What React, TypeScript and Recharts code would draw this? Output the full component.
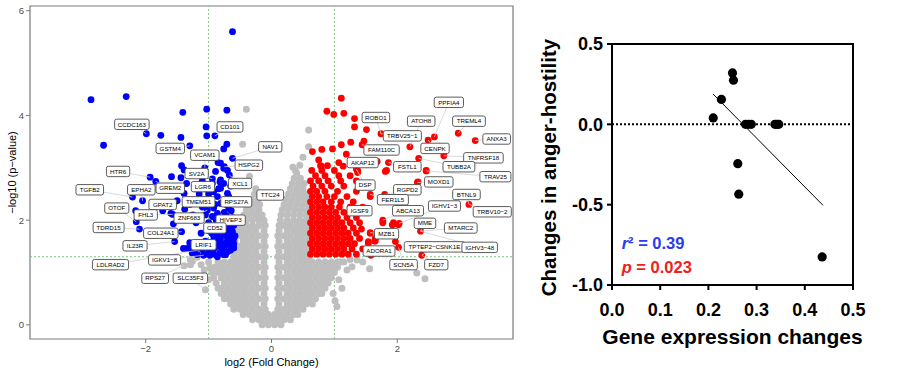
import { ScatterChart, Scatter, XAxis, YAxis, ReferenceLine, ReferenceArea, ReferenceDot } from "recharts";

// volcano plot: gray cloud rows as [y, ...x]
const grayRows: number[][] = [
  [0.0, -0.15, -0.05, 0.05, 0.15],
  [0.1, -0.3, -0.2, -0.1, 0, 0.1, 0.2, 0.3],
  [0.2, -0.45, -0.35, -0.25, -0.15, -0.05, 0.05, 0.15, 0.25, 0.35, 0.42],
  [0.3, -0.6, -0.5, -0.4, -0.3, -0.2, -0.1, 0.1, 0.2, 0.3, 0.4, 0.5],
  [0.4, -0.65, -0.55, -0.45, -0.35, -0.25, -0.12, 0.12, 0.25, 0.35, 0.45, 0.55, 0.65],
  [0.5, -0.75, -0.7, -0.6, -0.5, -0.4, -0.3, -0.2, -0.1, 0.1, 0.2, 0.3, 0.4, 0.5, 0.6, 0.7],
  [0.6, -0.8, -0.75, -0.65, -0.55, -0.45, -0.35, -0.25, -0.12, 0.12, 0.25, 0.35, 0.45, 0.55, 0.65, 0.75, 0.8],
  [0.7, -0.85, -0.8, -0.7, -0.6, -0.5, -0.4, -0.3, -0.2, -0.1, 0.1, 0.2, 0.3, 0.4, 0.5, 0.6, 0.7, 0.8, 0.85],
  [0.8, -0.88, -0.75, -0.65, -0.55, -0.45, -0.35, -0.25, -0.12, 0.12, 0.25, 0.35, 0.45, 0.55, 0.65, 0.75, 0.85, 0.9],
  [0.9, -0.92, -0.8, -0.7, -0.6, -0.5, -0.4, -0.3, -0.2, -0.1, 0.1, 0.2, 0.3, 0.4, 0.5, 0.6, 0.7, 0.8, 0.9, 0.95],
  [1.0, -0.95, -0.85, -0.75, -0.65, -0.55, -0.45, -0.35, -0.25, -0.12, 0.12, 0.25, 0.35, 0.45, 0.55, 0.65, 0.75, 0.85, 0.95, 1.0],
  [1.1, -0.98, -0.9, -0.8, -0.7, -0.6, -0.5, -0.4, -0.3, -0.2, -0.1, 0.1, 0.2, 0.3, 0.4, 0.5, 0.6, 0.7, 0.8, 0.9, 1.0, 1.05],
  [1.2, -1.0, -0.85, -0.75, -0.65, -0.55, -0.45, -0.35, -0.25, -0.12, 0.12, 0.25, 0.35, 0.45, 0.55, 0.65, 0.75, 0.85, 0.95, 1.05, 1.1],
  [1.3, -0.6, -0.5, -0.4, -0.3, -0.2, -0.1, 0.1, 0.2, 0.3, 0.4, 0.5, 0.6],
  [1.4, -0.6, -0.55, -0.45, -0.35, -0.25, -0.12, 0.12, 0.25, 0.35, 0.45, 0.55, 0.62],
  [1.5, -0.6, -0.5, -0.4, -0.3, -0.2, -0.1, 0.1, 0.2, 0.3, 0.4, 0.5, 0.6],
  [1.6, -0.58, -0.45, -0.35, -0.25, -0.12, 0.12, 0.25, 0.35, 0.45, 0.55, 0.62],
  [1.7, -0.55, -0.5, -0.4, -0.3, -0.2, -0.1, 0.1, 0.2, 0.3, 0.4, 0.5, 0.6],
  [1.8, -0.52, -0.45, -0.35, -0.25, -0.12, 0.12, 0.25, 0.35, 0.45, 0.55, 0.62],
  [1.9, -0.5, -0.4, -0.3, -0.2, -0.1, 0.12, 0.2, 0.3, 0.4, 0.5, 0.6],
  [2.0, -0.48, -0.4, -0.3, -0.2, -0.12, 0.14, 0.25, 0.35, 0.45, 0.55, 0.62],
  [2.1, -0.44, -0.35, -0.25, -0.15, 0.15, 0.25, 0.35, 0.45, 0.55, 0.62],
  [2.2, -0.4, -0.3, -0.2, 0.17, 0.27, 0.37, 0.47, 0.57],
  [2.3, -0.36, -0.27, -0.19, 0.2, 0.3, 0.4, 0.5, 0.6],
  [2.4, -0.32, -0.22, 0.23, 0.33, 0.43, 0.53, 0.6],
  [2.5, -0.27, 0.27, 0.37, 0.47, 0.57],
  [2.6, -0.25, 0.3, 0.4, 0.5],
  [2.7, 0.33, 0.43, 0.52],
  [2.8, 0.36, 0.46],
  [2.9, 0.4],
];

const grayExtra: number[][] = [
  [-0.4, 4.12], [-0.46, 3.45], [-0.35, 2.84], [0.59, 3.72], [0.59, 3.4], [0.34, 3.01], [0.45, 3.05], [0.5, 3.2], [0.38, 2.95],
  [2.31, 0.99], [2.44, 0.88], [1.56, 1.07], [1.2, 1.05], [1.07, 0.86], [1.04, 0.35], [1.01, 0.46], [1.36, 1.24], [1.28, 1.11],
  [1.15, 1.2], [1.25, 1.25], [1.45, 1.2], [1.12, 0.7], [0.98, 0.6],
  [-1.39, 1.13], [-1.26, 1.21], [-1.18, 1.29], [-1.29, 1.25], [-1.05, 0.67], [-1.07, 1.05], [-1.0, 0.86], [-1.12, 1.15], [-1.29, 1.15],
];

const bluePoints: number[][] = [
  [-0.62, 5.6], [-2.87, 4.3], [-2.31, 4.36], [-1.41, 4.06], [-1.03, 4.12], [-0.71, 4.1], [-1.04, 3.78], [-1.99, 3.65],
  [-1.76, 3.62], [-1.44, 3.58], [-1.03, 3.61], [-0.9, 3.61], [-2.67, 3.43], [-1.3, 3.42], [-0.71, 3.45], [-0.76, 3.36],
  [-0.62, 3.18], [-0.85, 3.1], [-0.75, 3.02], [-1.43, 3.04], [-1.06, 3.0], [-0.67, 2.86], [-1.93, 2.82], [-1.59, 2.83],
  [-1.44, 2.81], [-0.94, 2.79], [-1.84, 2.74], [-0.82, 2.73], [-2.21, 2.44], [-2.05, 2.37], [-1.5, 2.37], [-1.38, 2.21],
  [-2.16, 2.18], [-1.73, 2.18], [-1.6, 2.13], [-1.57, 2.11], [-2.15, 1.97], [-1.56, 1.93], [-2.1, 1.83], [-1.43, 1.78],
  [-1.54, 1.59], [-1.3, 1.57], [-1.4, 1.46], [-1.34, 1.46], [-1.26, 1.46], [-1.2, 1.46], [-1.1, 1.44], [-1.26, 1.37],
  [-1.18, 1.34], [-1.08, 1.33], [-0.98, 1.33], [-0.86, 1.3], [-0.76, 1.34], [-0.73, 1.34], [-0.79, 1.44], [-0.92, 1.44],
  [-0.63, 1.52], [-0.81, 3.09], [-0.76, 2.99], [-0.89, 2.93], [-0.81, 2.77], [-0.94, 2.7], [-0.81, 2.61], [-0.92, 2.54],
  [-0.7, 2.51], [-0.68, 2.45], [-0.86, 2.45], [-0.97, 2.39], [-0.65, 2.35], [-0.81, 2.32], [-0.92, 2.23], [-1.02, 2.19],
  [-0.68, 2.23], [-0.86, 2.13], [-0.94, 2.07], [-0.76, 2.0], [-0.84, 1.91], [-0.7, 1.85], [-0.62, 1.78], [-0.76, 1.75],
  [-0.68, 1.69], [-0.81, 1.65], [-0.65, 1.59], [-0.73, 1.56], [-0.92, 1.62], [-0.65, 1.43], [-0.76, 1.46], [-0.86, 1.5],
  [-0.97, 1.46], [-1.07, 1.34], [-0.6, 1.65], [-0.63, 1.72], [-0.7, 1.62], [-0.66, 1.52], [-0.72, 1.7], [-0.78, 1.8],
  [-0.6, 1.55], [-0.74, 1.52], [-0.7, 1.78], [-0.64, 1.85], [-0.58, 1.7], [-0.86, 1.72], [-0.9, 1.85], [-1.0, 1.95],
  [-1.05, 2.1], [-0.98, 2.3], [-1.1, 2.25], [-1.15, 2.5], [-1.05, 2.6], [-1.0, 2.5], [-0.75, 2.15], [-0.72, 2.3],
  [-0.88, 2.0], [-0.95, 1.75], [-1.05, 1.6], [-1.12, 1.75], [-1.2, 1.95], [-1.25, 2.1], [-1.3, 2.3], [-1.2, 2.6],
  [-1.1, 2.75], [-0.65, 2.65], [-0.7, 2.95], [-0.62, 2.05], [-0.66, 1.95], [-0.6, 1.9], [-0.72, 2.08], [-0.64, 2.18],
  [-0.9, 2.3], [-0.84, 2.6], [-0.76, 2.7], [-0.98, 2.62], [-0.6, 1.47], [-0.69, 1.4], [-0.82, 1.38], [-0.92, 1.35],
  [-1.0, 1.4], [-1.05, 1.5], [-0.92, 1.7], [-1.0, 1.8], [-0.8, 1.55], [-0.86, 1.6], [-1.39, 2.96], [-1.39, 2.51], [-1.35, 2.7],
];

// red cloud rows as [y, ...x]
const redRows: number[][] = [
  [1.35, 0.62, 0.72, 0.82, 0.92, 1.02, 1.12, 1.22, 1.35, 1.58],
  [1.45, 0.65, 0.75, 0.85, 0.95, 1.05, 1.15, 1.28, 1.45],
  [1.55, 0.62, 0.72, 0.82, 0.92, 1.02, 1.12, 1.22, 1.32, 1.54],
  [1.65, 0.65, 0.75, 0.85, 0.95, 1.05, 1.15, 1.25, 1.4, 1.65],
  [1.75, 0.62, 0.72, 0.82, 0.92, 1.02, 1.12, 1.22, 1.35, 1.57],
  [1.85, 0.65, 0.75, 0.85, 0.95, 1.05, 1.15, 1.3],
  [1.95, 0.62, 0.72, 0.82, 0.92, 1.02, 1.12, 1.25, 1.4, 1.77, 1.94],
  [2.05, 0.65, 0.75, 0.85, 0.95, 1.05, 1.2, 1.35],
  [2.15, 0.62, 0.72, 0.82, 0.92, 1.02, 1.15, 1.3],
  [2.25, 0.65, 0.75, 0.85, 0.95, 1.08, 1.25, 1.45],
  [2.35, 0.62, 0.72, 0.82, 0.95, 1.1, 1.3],
  [2.45, 0.65, 0.75, 0.88, 1.0, 1.2, 1.57, 1.8],
  [2.55, 0.62, 0.72, 0.85, 1.05, 1.35],
  [2.65, 0.66, 0.8, 0.95, 1.15],
  [2.75, 0.62, 0.75, 0.9, 1.1, 1.35],
  [2.85, 0.7, 0.85, 1.07, 1.25],
  [2.95, 0.64, 0.8, 1.0, 1.37, 1.83, 2.46],
];

const redExtra: number[][] = [
  [1.11, 4.33], [0.99, 4.02], [1.15, 4.04], [0.88, 4.08], [1.32, 3.94], [1.32, 3.78], [1.51, 3.73], [1.74, 3.65],
  [0.65, 3.31], [0.8, 3.35], [0.97, 3.36], [1.11, 3.44], [1.26, 3.49], [1.47, 3.51], [1.44, 3.44], [1.19, 3.26],
  [2.2, 3.4], [2.49, 3.53], [2.59, 3.59], [2.97, 3.66], [3.24, 3.52], [2.34, 3.18], [2.74, 3.23], [2.46, 2.94],
  [2.32, 2.72], [1.81, 2.93], [1.86, 3.1], [1.68, 3.12], [0.79, 3.03], [0.89, 3.04], [1.14, 3.03], [0.75, 3.15],
  [1.07, 3.1], [1.35, 2.97], [1.37, 2.91], [0.78, 3.04], [3.14, 2.3], [2.03, 1.94], [1.94, 1.92], [2.37, 1.79],
  [2.39, 1.33], [1.97, 1.59], [2.02, 1.48], [1.77, 2.0], [1.8, 2.49], [1.57, 2.49], [1.57, 1.76], [1.65, 1.6],
  [1.54, 1.59], [1.58, 1.33], [1.57, 1.4], [1.43, 1.83], [1.92, 1.91], [2.02, 1.91], [1.64, 1.6], [2.33, 2.73],
];

// gene labels: label centre (x, y) and the point it points at (px, py)
const volcanoLabels = [
  { gene: "CCDC163", x: -2.22, y: 3.83, px: -1.99, py: 3.65 },
  { gene: "GSTM4", x: -1.61, y: 3.37, px: -1.3, py: 3.42 },
  { gene: "VCAM1", x: -1.06, y: 3.24, px: -1.06, py: 3.0 },
  { gene: "CD101", x: -0.66, y: 3.78, px: -0.9, py: 3.61 },
  { gene: "NAV1", x: -0.02, y: 3.4, px: -0.62, py: 3.18 },
  { gene: "HSPG2", x: -0.36, y: 3.05, px: -0.75, py: 3.02 },
  { gene: "HTR6", x: -2.44, y: 2.93, px: -1.93, py: 2.82 },
  { gene: "SV2A", x: -1.19, y: 2.89, px: -0.94, py: 2.79 },
  { gene: "TGFB2", x: -2.89, y: 2.58, px: -2.21, py: 2.44 },
  { gene: "EPHA2", x: -2.07, y: 2.58, px: -2.05, py: 2.37 },
  { gene: "GREM2", x: -1.61, y: 2.61, px: -1.84, py: 2.74 },
  { gene: "LGR6", x: -1.09, y: 2.64, px: -0.94, py: 2.7 },
  { gene: "XCL1", x: -0.5, y: 2.7, px: -0.67, py: 2.86 },
  { gene: "TTC24", x: -0.02, y: 2.48, px: -0.65, py: 2.35 },
  { gene: "OTOF", x: -2.46, y: 2.23, px: -2.15, py: 1.97 },
  { gene: "GPAT2", x: -1.73, y: 2.3, px: -1.5, py: 2.37 },
  { gene: "TMEM51", x: -1.16, y: 2.35, px: -0.97, py: 2.39 },
  { gene: "RPS27A", x: -0.56, y: 2.35, px: -0.65, py: 2.35 },
  { gene: "FHL3", x: -2.0, y: 2.1, px: -1.57, py: 2.11 },
  { gene: "ZNF683", x: -1.31, y: 2.04, px: -1.02, py: 2.19 },
  { gene: "HIVEP3", x: -0.65, y: 2.0, px: -0.76, py: 2.0 },
  { gene: "TDRD15", x: -2.59, y: 1.86, px: -2.1, py: 1.83 },
  { gene: "CD52", x: -0.9, y: 1.85, px: -0.84, py: 1.91 },
  { gene: "COL24A1", x: -1.76, y: 1.75, px: -1.43, py: 1.78 },
  { gene: "IL23R", x: -2.17, y: 1.51, px: -1.54, py: 1.59 },
  { gene: "LRIF1", x: -1.08, y: 1.53, px: -1.2, py: 1.46 },
  { gene: "IGKV1\u22128", x: -1.7, y: 1.24, px: -1.08, py: 1.33 },
  { gene: "LDLRAD2", x: -2.56, y: 1.15, px: -1.1, py: 1.44 },
  { gene: "RPS27", x: -1.85, y: 0.89, px: -1.39, py: 1.13 },
  { gene: "SLC35F3", x: -1.29, y: 0.89, px: -1.05, py: 0.67 },
  { gene: "PPFIA4", x: 2.82, y: 4.25, px: 2.59, py: 3.59 },
  { gene: "ROBO1", x: 1.66, y: 3.96, px: 1.74, py: 3.65 },
  { gene: "ATOH8", x: 2.38, y: 3.89, px: 2.2, py: 3.4 },
  { gene: "TREML4", x: 3.14, y: 3.89, px: 2.97, py: 3.66 },
  { gene: "TRBV25\u22121", x: 2.08, y: 3.61, px: 1.74, py: 3.65 },
  { gene: "ANXA3", x: 3.58, y: 3.55, px: 3.24, py: 3.52 },
  { gene: "FAM110C", x: 1.75, y: 3.34, px: 1.44, py: 3.44 },
  { gene: "CENPK", x: 2.6, y: 3.37, px: 2.49, py: 3.53 },
  { gene: "TNFRSF18", x: 3.37, y: 3.19, px: 2.74, py: 3.23 },
  { gene: "AKAP12", x: 1.45, y: 3.1, px: 1.26, py: 3.05 },
  { gene: "FSTL1", x: 2.16, y: 3.02, px: 1.86, py: 3.1 },
  { gene: "TUBB2A", x: 2.98, y: 3.02, px: 2.34, py: 3.18 },
  { gene: "TRAV25", x: 3.56, y: 2.83, px: 2.46, py: 2.94 },
  { gene: "MOXD1", x: 2.66, y: 2.73, px: 2.32, py: 2.72 },
  { gene: "DSP", x: 1.49, y: 2.67, px: 1.35, py: 2.97 },
  { gene: "RGPD2", x: 2.16, y: 2.58, px: 1.8, py: 2.49 },
  { gene: "BTNL9", x: 3.1, y: 2.49, px: 3.14, py: 2.3 },
  { gene: "FER1L5", x: 1.93, y: 2.39, px: 1.57, py: 2.49 },
  { gene: "IGSF9", x: 1.4, y: 2.18, px: 1.25, py: 2.25 },
  { gene: "ABCA13", x: 2.17, y: 2.18, px: 1.77, py: 2.0 },
  { gene: "IGHV1\u22123", x: 2.75, y: 2.27, px: 2.03, py: 1.94 },
  { gene: "TRBV10\u22122", x: 3.51, y: 2.16, px: 3.14, py: 2.3 },
  { gene: "MME", x: 2.44, y: 1.94, px: 2.37, py: 1.79 },
  { gene: "MTARC2", x: 3.01, y: 1.85, px: 2.37, py: 1.79 },
  { gene: "MZB1", x: 1.83, y: 1.74, px: 1.57, py: 1.76 },
  { gene: "TPTEP2\u2212CSNK1E", x: 2.59, y: 1.49, px: 2.39, py: 1.33 },
  { gene: "IGHV3\u221248", x: 3.31, y: 1.48, px: 2.37, py: 1.79 },
  { gene: "ADORA1", x: 1.71, y: 1.41, px: 1.58, py: 1.33 },
  { gene: "SCN5A", x: 2.1, y: 1.15, px: 2.02, py: 1.48 },
  { gene: "FZD7", x: 2.62, y: 1.15, px: 2.39, py: 1.33 },
];

// right panel
const geneChange = [0.21, 0.227, 0.25, 0.252, 0.277, 0.283, 0.289, 0.261, 0.263, 0.338, 0.342, 0.346, 0.436];
const angerChange = [0.04, 0.155, 0.32, 0.275, 0, 0, 0, -0.245, -0.435, 0, 0, 0, -0.825];
const fitLine = [{ x: 0.2095, y: 0.189 }, { x: 0.4377, y: -0.504 }];

const pairs = (a: number[][]) => a.map(([x, y]) => ({ x, y }));
const rows = (a: number[][]) => a.flatMap(([y, ...xs]) => xs.map((x) => ({ x, y })));

const grayData = [...rows(grayRows), ...pairs(grayExtra)];
const blueData = pairs(bluePoints);
const redData = [...rows(redRows), ...pairs(redExtra)];
const corrData = geneChange.map((x, i) => ({ x, y: angerChange[i] }));

const FONT = "'Liberation Sans', Arial, Helvetica, sans-serif";
const minus = (v: number) => (v < 0 ? "\u2212" + Math.abs(v) : String(v));

const dot = (color: string, r: number) => (p: any) => <circle cx={p.cx} cy={p.cy} r={r} fill={color} />;
const none = () => <g />;

const charW = (c: string) =>
  c === "I" ? 0.28 : c === "M" ? 0.83 : /[0-9]/.test(c) ? 0.556 : c === "\u2212" ? 0.584 : 0.69;

const LabelBox = (p: any) => {
  const t: string = p.payload.gene;
  const w = t.split("").reduce((s, c) => s + charW(c), 0) * 6.2 + 7;
  return (
    <g>
      <rect x={p.cx - w / 2} y={p.cy - 5.2} width={w} height={10.4} rx={2} fill="#fff" stroke="#4a4a4a" strokeWidth={0.9} />
      <text x={p.cx} y={p.cy + 2.2} textAnchor="middle" fontSize={6.2} fontFamily={FONT} fill="#000">
        {t}
      </text>
    </g>
  );
};

const Volcano = () => (
  <ScatterChart width={520} height={372} margin={{ top: 6, right: 7, bottom: 0, left: 0 }}>
    <XAxis
      type="number"
      dataKey="x"
      domain={[-3.84, 3.84]}
      ticks={[-2, 0, 2]}
      allowDataOverflow
      height={33}
      axisLine={false}
      tickSize={4}
      tickLine={{ stroke: "#7a7a7a" }}
      tick={{ fill: "#4d4d4d", fontSize: 9.5, fontFamily: FONT }}
      tickFormatter={minus}
      label={(props: any) => {
        const vb = props.viewBox;
        return (
          <text x={vb.x + vb.width / 2} y={vb.y + 27} textAnchor="middle" fontSize={11} fontFamily={FONT} fill="#000">
            log2 (Fold Change)
          </text>
        );
      }}
    />
    <YAxis
      type="number"
      dataKey="y"
      domain={[-0.27, 6.09]}
      ticks={[0, 2, 4, 6]}
      allowDataOverflow
      width={30}
      axisLine={false}
      tickSize={4}
      tickLine={{ stroke: "#7a7a7a" }}
      tick={{ fill: "#4d4d4d", fontSize: 9.5, fontFamily: FONT }}
      tickFormatter={minus}
      label={(props: any) => {
        const vb = props.viewBox;
        const cy = vb.y + vb.height / 2;
        return (
          <text transform={`translate(${vb.x + 12},${cy}) rotate(-90)`} textAnchor="middle" dominantBaseline="central" fontSize={11} fontFamily={FONT} fill="#000">
            {"\u2212log10 (p\u2212value)"}
          </text>
        );
      }}
    />
    <Scatter data={grayData} fill="#bebebe" shape={dot("#bebebe", 3.5)} isAnimationActive={false} />
    <Scatter data={blueData} fill="#0000ff" shape={dot("#0000ff", 3.4)} isAnimationActive={false} />
    <Scatter data={redData} fill="#ff0000" shape={dot("#ff0000", 3.4)} isAnimationActive={false} />
    <ReferenceLine x={-1} stroke="#7cc47c" strokeDasharray="2 2" strokeWidth={1} />
    <ReferenceLine x={1} stroke="#7cc47c" strokeDasharray="2 2" strokeWidth={1} />
    <ReferenceLine y={1.301} stroke="#7cc47c" strokeDasharray="2 2" strokeWidth={1} />
    {volcanoLabels.map((l) => (
      <Scatter
        key={"seg" + l.gene}
        data={[{ x: l.px, y: l.py }, { x: l.x, y: l.y }]}
        line={{ stroke: "#cfcfcf", strokeWidth: 0.8 }}
        shape={none}
        isAnimationActive={false}
      />
    ))}
    <Scatter data={volcanoLabels} shape={LabelBox} isAnimationActive={false} />
    <ReferenceArea x1={-3.84} x2={3.84} y1={-0.27} y2={6.09} fill="none" stroke="#7a7a7a" strokeWidth={1.2} />
  </ScatterChart>
);

const boldTick = { fill: "#000", fontSize: 18, fontWeight: 700, fontFamily: FONT };

const Correlation = () => (
  <ScatterChart width={380} height={372} margin={{ top: 44, right: 47, bottom: 0, left: 42 }}>
    <XAxis
      type="number"
      dataKey="x"
      domain={[0, 0.5]}
      ticks={[0, 0.1, 0.2, 0.3, 0.4, 0.5]}
      allowDataOverflow
      height={87}
      axisLine={{ stroke: "#000", strokeWidth: 2 }}
      tickLine={{ stroke: "#000", strokeWidth: 2 }}
      tickSize={5}
      tickMargin={13}
      tick={boldTick}
      tickFormatter={(v: number) => v.toFixed(1)}
      label={(props: any) => {
        const vb = props.viewBox;
        return (
          <text x={vb.x + vb.width / 2} y={vb.y + 59} textAnchor="middle" fontSize={21} fontWeight={700} fontFamily={FONT} fill="#000">
            Gene expression changes
          </text>
        );
      }}
    />
    <YAxis
      type="number"
      dataKey="y"
      domain={[-1, 0.5]}
      ticks={[-1, -0.5, 0, 0.5]}
      allowDataOverflow
      width={50}
      axisLine={{ stroke: "#000", strokeWidth: 2 }}
      tickLine={{ stroke: "#000", strokeWidth: 2 }}
      tickSize={5}
      tickMargin={4}
      tick={boldTick}
      tickFormatter={(v: number) => v.toFixed(1)}
      label={(props: any) => {
        const vb = props.viewBox;
        const cy = vb.y + vb.height / 2 + 3;
        return (
          <text transform={`translate(${vb.x - 14},${cy}) rotate(-90)`} textAnchor="middle" dominantBaseline="central" fontSize={20.5} fontWeight={700} fontFamily={FONT} fill="#000">
            Changes in anger-hostility
          </text>
        );
      }}
    />
    <ReferenceArea x1={0} x2={0.5} y1={-1} y2={0.5} fill="none" stroke="#000" strokeWidth={2} />
    <ReferenceLine y={0} stroke="#000" strokeWidth={2} strokeDasharray="2 2" />
    <ReferenceLine segment={fitLine} stroke="#000" strokeWidth={1} />
    <Scatter data={corrData} fill="#000" shape={dot("#000", 4.6)} isAnimationActive={false} />
    <ReferenceDot
      x={0.02}
      y={-0.74}
      r={0}
      shape={(p: any) => (
        <text x={p.cx} y={p.cy + 6} fontSize={16.5} fontWeight={700} fontFamily={FONT} fill="#2a3cf2">
          <tspan fontStyle="italic">r</tspan>
          {"\u00b2 = 0.39"}
        </text>
      )}
    />
    <ReferenceDot
      x={0.02}
      y={-0.89}
      r={0}
      shape={(p: any) => (
        <text x={p.cx} y={p.cy + 6} fontSize={16.5} fontWeight={700} fontFamily={FONT} fill="#f02020">
          <tspan fontStyle="italic">p</tspan>
          {" = 0.023"}
        </text>
      )}
    />
  </ScatterChart>
);

export default function App() {
  return (
    <div style={{ position: "absolute", left: 0, top: 0, width: 900, height: 372, background: "#fff" }}>
      <div style={{ position: "absolute", left: 0, top: 0 }}>
        <Volcano />
      </div>
      <div style={{ position: "absolute", left: 520, top: 0 }}>
        <Correlation />
      </div>
    </div>
  );
}
